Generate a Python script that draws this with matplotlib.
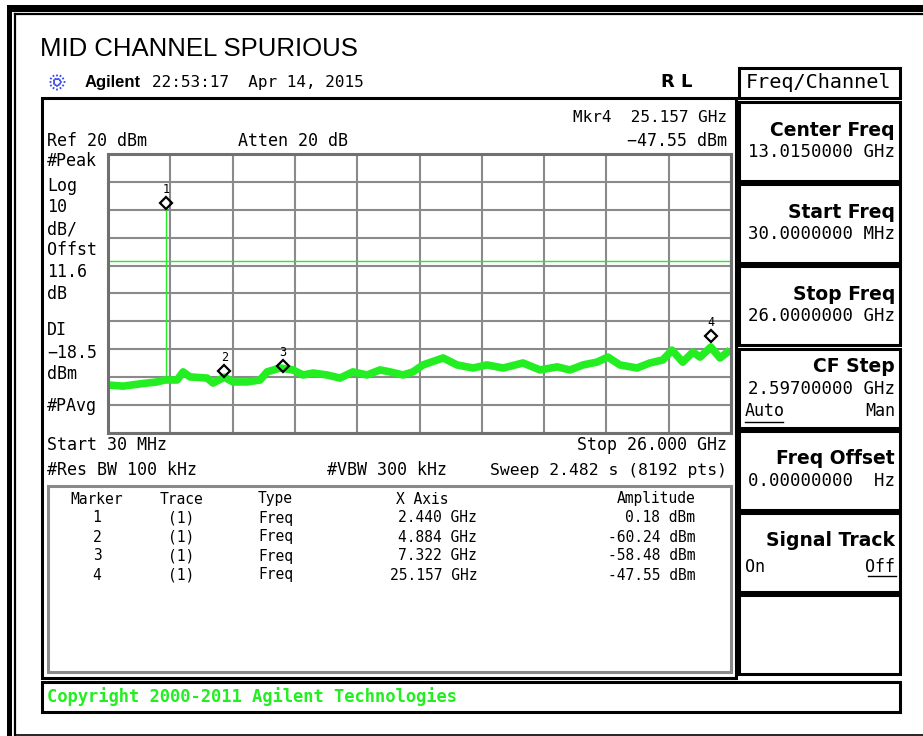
import numpy as np
import matplotlib
matplotlib.use("Agg")
import matplotlib.pyplot as plt
from matplotlib.patches import Rectangle

# trace (GHz, dBm)
trace_ghz=[0.03,0.66,1.36,2.07,2.40,2.45,2.91,3.16,3.45,4.16,4.41,4.88,5.24,5.82,6.37,6.66,7.20,7.74,8.16,8.58,
           9.16,9.70,10.24,10.83,11.37,11.79,12.33,12.74,13.16,14.00,14.58,15.25,15.83,16.50,17.33,18.04,18.75,
           19.29,19.83,20.41,20.87,21.37,22.08,22.62,23.16,23.54,23.99,24.41,24.71,25.16,25.54,25.96]
trace_dbm=[-62.8,-63.2,-62.4,-61.7,-61.0,-61.0,-61.0,-58.1,-59.9,-60.3,-62.1,-60.0,-61.7,-61.7,-61.0,-58.1,-56.7,
           -57.4,-59.2,-58.5,-59.2,-60.3,-58.1,-59.2,-57.4,-58.1,-59.2,-58.1,-55.6,-53.1,-55.6,-56.7,-55.6,-56.7,
           -54.9,-57.4,-56.3,-57.4,-55.6,-54.6,-52.8,-55.6,-56.7,-54.9,-53.8,-50.3,-54.6,-51.0,-52.8,-49.2,-53.1,-50.3]
spike_ghz=2.44
spike_floor=-61.0
spike_peak=0.18

mk_num=[1,2,3,4]
mk_ghz=[2.440,4.884,7.322,25.157]
mk_dbm=[0.18,-60.24,-58.48,-47.55]

start_ghz=0.03
stop_ghz=26.0
ref_dbm=20
bottom_dbm=-80
dl_dbm=-18.5

green="#22ee22"
gray="#8a8a8a"
mono="DejaVu Sans Mono"

fig=plt.figure(figsize=(9.23,7.36),dpi=100)
bg=fig.add_axes([0,0,1,1],zorder=0)
bg.set_xlim(0,923)
bg.set_ylim(736,0)
bg.axis("off")

def box(x0,y0,x1,y1,lw=2.2,color="black"):
    bg.add_patch(Rectangle((x0,y0),x1-x0,y1-y0,fill=False,lw=lw,edgecolor=color))

def txt(x,y,s,size=12,ha="left",weight="normal",color="black",family=mono):
    bg.text(x,y,s,fontsize=size,ha=ha,va="center",fontweight=weight,color=color,family=family)

# outer frame
bg.add_patch(Rectangle((7,5),916,7,color="black",lw=0))
bg.add_patch(Rectangle((7,5),5,731,color="black",lw=0))
bg.plot([15,923],[14,14],color="black",lw=1.6)
bg.plot([15,15],[14,736],color="black",lw=1.6)
bg.plot([15,923],[734.5,734.5],color="black",lw=1.2)

# header
txt(40,49,"MID CHANNEL SPURIOUS",size=18.5,family="Liberation Sans")
for a in np.arange(0,360,30):
    r=np.deg2rad(a)
    bg.plot([57+2.5*np.cos(r),57+9*np.cos(r)],[82+2.5*np.sin(r),82+9*np.sin(r)],color="#3344ee",lw=1.3,ls=(0,(1,1)))
txt(85,82,"Agilent",size=12,weight="bold",family="Liberation Sans")
txt(152,82,"22:53:17  Apr 14, 2015",size=11.5)
txt(692,82,"R L",size=13,ha="right",weight="bold",family="DejaVu Sans")

# main panel and table
box(42,98,736,678,lw=2.2)
box(48,486,731,672,lw=2.2,color=gray)
txt(727,117,"Mkr4  25.157 GHz",size=11.5,ha="right")
txt(47,141,"Ref 20 dBm",size=12)
txt(238,141,"Atten 20 dB",size=12)
txt(727,141,"\u221247.55 dBm",size=12,ha="right")
side=[("#Peak",161),("Log",186),("10",207),("dB/",229),("Offst",250),("11.6",272),("dB",294),
      ("DI",330),("\u221218.5",353),("dBm",374),("#PAvg",406)]
for s,y in side:
    txt(47,y,s,size=12)
txt(47,445,"Start 30 MHz",size=12)
txt(727,445,"Stop 26.000 GHz",size=12,ha="right")
txt(47,470,"#Res BW 100 kHz",size=12)
txt(327,470,"#VBW 300 kHz",size=12)
txt(727,470,"Sweep 2.482 s (8192 pts)",size=11.8,ha="right")

txt(97,499,"Marker",size=10.5,ha="center")
txt(181,499,"Trace",size=10.5,ha="center")
txt(258,499,"Type",size=10.5)
txt(422,499,"X Axis",size=10.5,ha="center")
txt(695,499,"Amplitude",size=10.5,ha="right")
for i in range(len(mk_num)):
    y=518+19*i
    txt(97,y,str(mk_num[i]),size=10.5,ha="center")
    txt(181,y,"(1)",size=10.5,ha="center")
    txt(258,y,"Freq",size=10.5)
    txt(477,y,f"{mk_ghz[i]:.3f} GHz",size=10.5,ha="right")
    txt(695,y,f"{mk_dbm[i]:.2f} dBm",size=10.5,ha="right")

# softkeys
box(739,68,900,98)
txt(818,83,"Freq/Channel",size=14.5,ha="center")
keys=[("Center Freq","13.0150000 GHz"),("Start Freq","30.0000000 MHz"),("Stop Freq","26.0000000 GHz"),
      ("CF Step","2.59700000 GHz"),("Freq Offset","0.00000000  Hz"),("Signal Track",""),("","")]
for i,(k,v) in enumerate(keys):
    y0=102+82.2*i
    box(739,y0,900,y0+79)
    dy=-10 if k=="CF Step" else 0
    if k:
        txt(895,y0+28+dy,k,size=13.5,ha="right",weight="bold",family="DejaVu Sans")
    if v:
        txt(895,y0+50+dy,v,size=12.5,ha="right")
txt(745,411,"Auto",size=12)
bg.plot([745,783],[422,422],color="black",lw=1)
txt(895,411,"Man",size=12,ha="right")
txt(745,567,"On",size=12)
txt(895,567,"Off",size=12,ha="right")
bg.plot([868,896],[576,576],color="black",lw=1)

# copyright bar
box(42,682,900,712)
txt(47,697,"Copyright 2000-2011 Agilent Technologies",size=12.3,weight="bold",color=green)

# graticule
ax=fig.add_axes([108/923,1-433/736,623/923,279/736],zorder=2)
ax.set_xlim(start_ghz,stop_ghz)
ax.set_ylim(bottom_dbm,ref_dbm)
ax.set_xticks(np.linspace(start_ghz,stop_ghz,11))
ax.set_yticks(np.arange(bottom_dbm,ref_dbm+1,10))
ax.grid(color=gray,lw=1.5)
ax.tick_params(length=0,labelbottom=False,labelleft=False)
for sp in ax.spines.values():
    sp.set_color("#707070")
    sp.set_linewidth(2.2)

ax.axhline(dl_dbm,color=green,lw=1)
ax.plot([spike_ghz,spike_ghz],[spike_floor,spike_peak],color=green,lw=1)
ax.plot(trace_ghz,trace_dbm,color=green,lw=5.5,solid_joinstyle="round",solid_capstyle="butt")
ax.plot(mk_ghz,np.array(mk_dbm)+2.4,"D",mfc="none",mec="black",ms=6.5,mew=1.6)
for n,f,d in zip(mk_num,mk_ghz,mk_dbm):
    ax.text(f,d+7.2,str(n),fontsize=8.5,ha="center",va="center",family=mono)

fig.savefig("out.png",dpi=100)
